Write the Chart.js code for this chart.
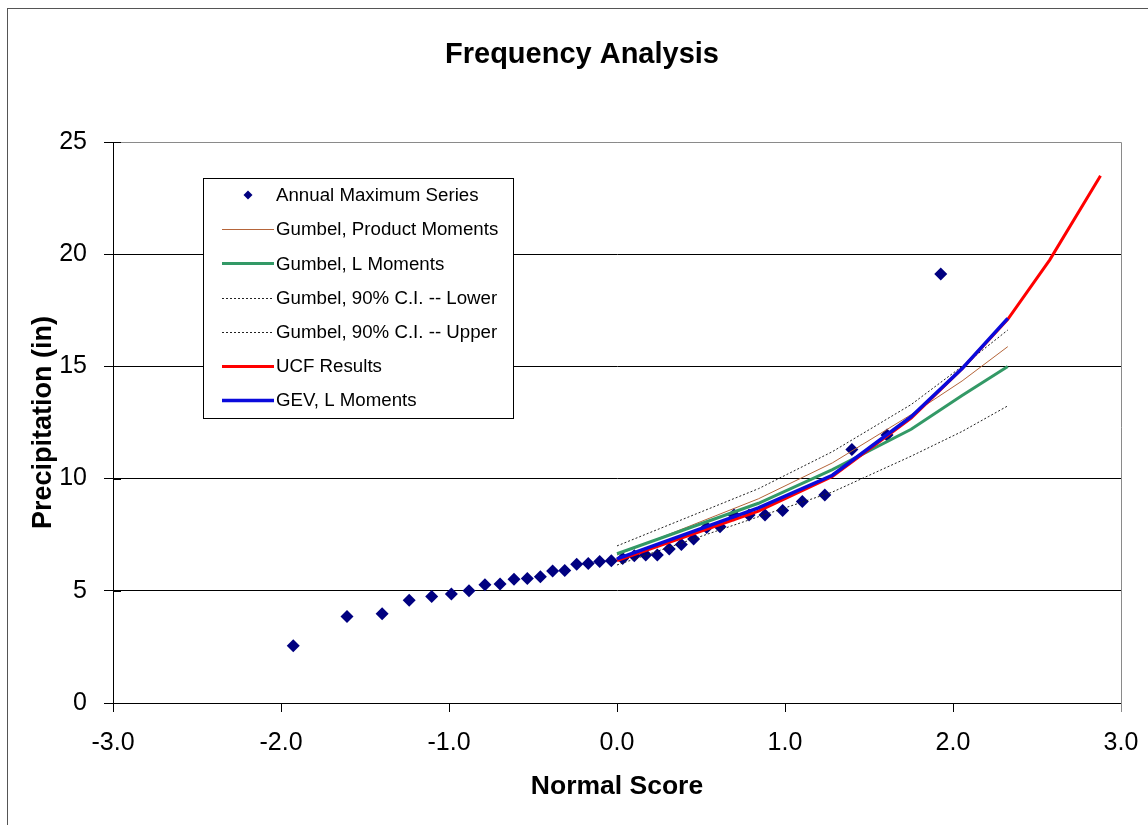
<!DOCTYPE html>
<html>
<head>
<meta charset="utf-8">
<title>Frequency Analysis</title>
<script src="https://cdn.jsdelivr.net/npm/chart.js@4.4.1/dist/chart.umd.min.js"></script>
<style>
  html, body { margin: 0; padding: 0; background: #fff; }
  canvas { display: block; }
</style>
</head>
<body>
<canvas id="freqChart" width="1148" height="825"></canvas>
<script>
// Annual maximum series, plotted against normal score
const normalScores = [-1.927, -1.607, -1.398, -1.237, -1.103, -0.986, -0.881, -0.786, -0.696,
    -0.613, -0.534, -0.456, -0.383, -0.311, -0.240, -0.171, -0.103, -0.034,
    0.034, 0.103, 0.171, 0.240, 0.311, 0.383, 0.456, 0.534, 0.613,
    0.696, 0.786, 0.881, 0.986, 1.103, 1.237, 1.398, 1.607, 1.927];
const annualMax = [2.55, 3.86, 3.98, 4.58, 4.75, 4.86, 5.00, 5.27, 5.30,
    5.51, 5.55, 5.63, 5.88, 5.91, 6.18, 6.22, 6.31, 6.34,
    6.44, 6.56, 6.60, 6.59, 6.86, 7.06, 7.31, 7.82, 7.85,
    8.38, 8.38, 8.38, 8.58, 8.98, 9.27, 11.30, 11.94, 19.12];

// fitted curves at the 2, 5, 10, 25, 50, 100 year normal scores
const returnScores = [0, 0.842, 1.282, 1.751, 2.054, 2.326];
const gumbelPM = [6.60, 9.10, 10.70, 12.85, 14.35, 15.88];
const gumbelLM = [6.65, 8.90, 10.40, 12.20, 13.70, 15.00];
const ciLower = [6.15, 8.30, 9.40, 11.00, 12.10, 13.24];
const ciUpper = [7.00, 9.55, 11.20, 13.30, 15.00, 16.62];
const gevLM = [6.42, 8.70, 10.15, 12.76, 14.90, 17.14];

// UCF results go on to 200 and 500 years
const ucfScores = [0, 0.842, 1.282, 1.751, 2.054, 2.326, 2.576, 2.878];
const ucfResults = [6.35, 8.55, 10.10, 12.70, 14.90, 17.10, 19.75, 23.50];

const xTicks = [-3, -2, -1, 0, 1, 2, 3];
const yTicks = [0, 5, 10, 15, 20, 25];

const chartTitle = 'Frequency Analysis';
const FONT = "'Liberation Sans', Arial, sans-serif";

const toPoints = (xs, ys) => xs.map((x, i) => ({ x: x, y: ys[i] }));

function lineSet(label, xs, ys, color, width, dash, order) {
    return {
        label: label,
        data: toPoints(xs, ys),
        showLine: true,
        borderColor: color,
        backgroundColor: color,
        borderWidth: width,
        borderDash: dash,
        pointRadius: 0,
        tension: 0,
        order: order
    };
}

// white page with the outer frame, the title and the grey plot border
const frame = {
    id: 'frame',
    beforeDraw(chart) {
        const ctx = chart.ctx;
        ctx.save();
        ctx.fillStyle = '#fff';
        ctx.fillRect(0, 0, chart.width, chart.height);
        ctx.strokeStyle = '#555';
        ctx.lineWidth = 1;
        ctx.strokeRect(7.5, 8.5, chart.width + 20, chart.height + 20);
        ctx.fillStyle = '#000';
        ctx.font = 'bold 29px ' + FONT;
        ctx.textAlign = 'center';
        ctx.textBaseline = 'middle';
        ctx.fillText(chartTitle, 582, 55);
        ctx.restore();
    },
    beforeDatasetsDraw(chart) {
        const a = chart.chartArea;
        const ctx = chart.ctx;
        const yScale = chart.scales.y;
        ctx.save();
        ctx.strokeStyle = '#8a8a8a';
        ctx.lineWidth = 1;
        ctx.beginPath();
        ctx.moveTo(a.left, Math.round(a.top) + 0.5);
        ctx.lineTo(Math.round(a.right) + 0.5, Math.round(a.top) + 0.5);
        ctx.lineTo(Math.round(a.right) + 0.5, a.bottom + 9);
        ctx.stroke();
        // the value axis ticks cross the axis line
        ctx.strokeStyle = '#000';
        ctx.beginPath();
        yTicks.forEach(v => {
            const y = Math.round(yScale.getPixelForValue(v)) + 0.5;
            ctx.moveTo(a.left, y);
            ctx.lineTo(a.left + 8, y);
        });
        ctx.stroke();
        ctx.restore();
    }
};

// legend box inside the plot, like the spreadsheet one
const legendBox = {
    id: 'legendBox',
    afterDatasetsDraw(chart) {
        const ctx = chart.ctx;
        const left = 203.5, top = 178.5, w = 310, h = 240;
        ctx.save();
        ctx.fillStyle = '#fff';
        ctx.fillRect(left, top, w, h);
        ctx.strokeStyle = '#000';
        ctx.lineWidth = 1;
        ctx.strokeRect(left, top, w, h);
        ctx.font = '18.7px ' + FONT;
        ctx.textBaseline = 'middle';
        ctx.textAlign = 'left';
        chart.data.datasets.forEach((ds, i) => {
            const y = 195 + i * 34.2;
            if (ds.showLine) {
                ctx.strokeStyle = ds.borderColor;
                ctx.lineWidth = ds.borderWidth;
                ctx.setLineDash(ds.borderDash || []);
                ctx.beginPath();
                ctx.moveTo(222, Math.round(y) + 0.5);
                ctx.lineTo(274, Math.round(y) + 0.5);
                ctx.stroke();
                ctx.setLineDash([]);
            } else {
                ctx.fillStyle = ds.backgroundColor;
                ctx.beginPath();
                ctx.moveTo(248, y - 4.5);
                ctx.lineTo(252.5, y);
                ctx.lineTo(248, y + 4.5);
                ctx.lineTo(243.5, y);
                ctx.closePath();
                ctx.fill();
            }
            ctx.fillStyle = '#000';
            ctx.fillText(ds.label, 276, y + 1);
        });
        ctx.restore();
    }
};

const ctx = document.getElementById('freqChart').getContext('2d');
const freqChart = new Chart(ctx, {
    type: 'scatter',
    data: {
        datasets: [
            {
                label: 'Annual Maximum Series',
                data: toPoints(normalScores, annualMax),
                pointStyle: 'rectRot',
                pointRadius: 6.5,
                backgroundColor: '#000080',
                borderColor: '#000080',
                borderWidth: 0,
                order: 7
            },
            lineSet('Gumbel, Product Moments', returnScores, gumbelPM, '#b5653a', 1, [], 6),
            lineSet('Gumbel, L Moments', returnScores, gumbelLM, '#339966', 3, [], 5),
            lineSet('Gumbel, 90% C.I. -- Lower', returnScores, ciLower, '#222', 1, [2, 2], 4),
            lineSet('Gumbel, 90% C.I. -- Upper', returnScores, ciUpper, '#222', 1, [2, 2], 3),
            lineSet('UCF Results', ucfScores, ucfResults, '#ff0000', 3, [], 2),
            lineSet('GEV, L Moments', returnScores, gevLM, '#0a0adc', 3.5, [], 1)
        ]
    },
    options: {
        responsive: false,
        animation: false,
        devicePixelRatio: 1,
        layout: { padding: { left: 0, right: 27, top: 142, bottom: 0 } },
        plugins: {
            legend: { display: false },
            tooltip: { enabled: false },
            title: { display: false }
        },
        scales: {
            x: {
                type: 'linear',
                min: xTicks[0],
                max: xTicks[xTicks.length - 1],
                afterBuildTicks: axis => { axis.ticks = xTicks.map(v => ({ value: v })); },
                afterFit: axis => {
                    axis.height = 122;
                    // tick padding is only meant to push the labels down
                    axis.paddingLeft = 20;
                    axis.paddingRight = 20;
                },
                ticks: {
                    color: '#000',
                    padding: 16,
                    font: { family: FONT, size: 25 },
                    callback: v => v.toFixed(1)
                },
                grid: { drawOnChartArea: false, tickLength: 9, color: '#000' },
                border: { color: '#000', width: 1 },
                title: {
                    display: true,
                    text: 'Normal Score',
                    color: '#000',
                    font: { family: FONT, size: 26.5, weight: 'bold' },
                    padding: { top: 0, bottom: 22 }
                }
            },
            y: {
                type: 'linear',
                min: yTicks[0],
                max: yTicks[yTicks.length - 1],
                afterBuildTicks: axis => { axis.ticks = yTicks.map(v => ({ value: v })); },
                afterFit: axis => { axis.width = 113; },
                ticks: {
                    color: '#000',
                    padding: 17,
                    font: { family: FONT, size: 25 }
                },
                grid: {
                    tickLength: 9,
                    color: c => (c.tick && c.tick.value === 25) ? '#8a8a8a' : '#000',
                    tickColor: '#000'
                },
                border: { color: '#000', width: 1 },
                title: {
                    display: true,
                    text: 'Precipitation (in)',
                    color: '#000',
                    font: { family: FONT, size: 27, weight: 'bold' },
                    padding: { top: 27, bottom: 0 }
                }
            }
        }
    },
    plugins: [frame, legendBox]
});
</script>
</body>
</html>
